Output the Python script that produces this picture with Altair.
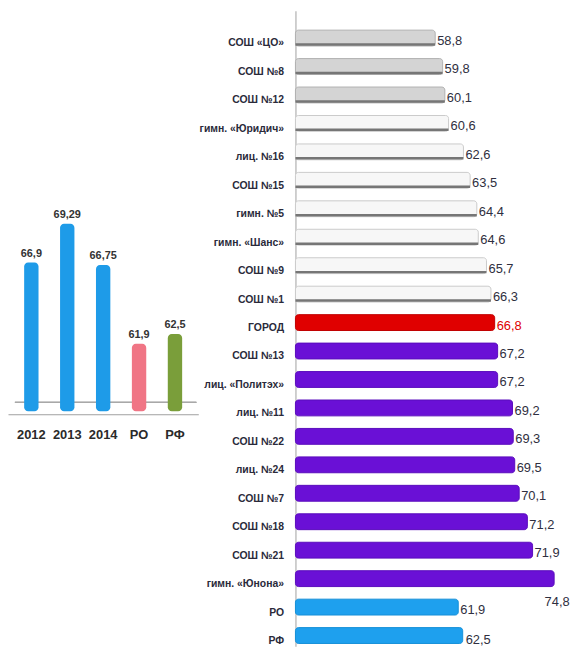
import json
import altair as alt
import pandas as pd

# ---- left chart data ----
years = ["2012", "2013", "2014", "РО", "РФ"]
year_vals = [66.9, 69.29, 66.75, 61.9, 62.5]
year_groups = ["year", "year", "year", "ro", "rf"]

# ---- right chart data ----
schools = ["СОШ «ЦО»", "СОШ №8", "СОШ №12", "гимн. «Юридич»", "лиц. №16", "СОШ №15",
           "гимн. №5", "гимн. «Шанс»", "СОШ №9", "СОШ №1", "ГОРОД", "СОШ №13",
           "лиц. «Политэх»", "лиц. №11", "СОШ №22", "лиц. №24", "СОШ №7", "СОШ №18",
           "СОШ №21", "гимн. «Юнона»", "РО", "РФ"]
scores = [58.8, 59.8, 60.1, 60.6, 62.6, 63.5, 64.4, 64.6, 65.7, 66.3, 66.8, 67.2,
          67.2, 69.2, 69.3, 69.5, 70.1, 71.2, 71.9, 74.8, 61.9, 62.5]
groups = ["grey"] * 3 + ["white"] * 7 + ["city"] + ["purple"] * 9 + ["region"] * 2

FONT = "Liberation Sans, Arial, sans-serif"

left_df = pd.DataFrame({"year": years, "v": year_vals, "lg": year_groups})
right_df = pd.DataFrame({"school": schools, "score": scores, "g": groups,
                         "row": list(range(len(schools)))})

# ---------------- left chart ----------------
lx = alt.X("year:N", sort=years,
           scale=alt.Scale(paddingInner=0.6, paddingOuter=0.45),
           axis=alt.Axis(title=None, labelAngle=0, ticks=False, domainColor="#a0a0a0",
                         domainWidth=1, labelPadding=14, labelFontSize=13,
                         labelFontWeight="bold", labelFont=FONT, labelColor="#2a2a2a"))
ly = alt.Y("v:Q", scale=alt.Scale(domain=[57.57, 82.39], zero=False, nice=False), axis=None)

left_base = alt.Chart(left_df).transform_calculate(
    lbl="replace(toString(datum.v), '.', ',')")
floor = alt.Chart(left_df).mark_rule(color="#a8a8a8", strokeWidth=1).encode(
    x=alt.value(7), x2=alt.value(190), y=alt.value(395))
left_bars = left_base.mark_bar(cornerRadius=4).encode(
    x=lx, y=ly, y2=alt.datum(57.75),
    color=alt.Color("lg:N", legend=None,
                    scale=alt.Scale(domain=["year", "ro", "rf"],
                                    range=["#1e9be8", "#f07585", "#7a9e3a"])))
left_text = left_base.mark_text(dy=-9, fontSize=11, font=FONT, fontWeight="bold",
                                color="#333").encode(x=lx, y=ly, text="lbl:N")
left = (floor + left_bars + left_text).properties(width=192, height=407)

# ---------------- right chart ----------------
label_expr = json.dumps(schools, ensure_ascii=False) + "[datum.value]"
ry = alt.Y("row:Q",
           scale=alt.Scale(domain=[-0.783, 21.2], reverse=True, zero=False, nice=False),
           axis=alt.Axis(title=None, ticks=False, grid=False, values=list(range(len(schools))),
                         labelExpr=label_expr,
                         domainColor="#c0c0c0", domainWidth=1.5,
                         labelPadding=12, labelFontSize=10.5, labelFont=FONT,
                         labelFontWeight="bold", labelColor="#2a2a3a", labelOffset=5,
                         minExtent=93, maxExtent=93))
rx_scale = alt.Scale(domain=[40, 77.07], zero=False, nice=False)
rx = alt.X("score:Q", scale=rx_scale, axis=None)

right_base = alt.Chart(right_df).transform_calculate(
    lbl="replace(toString(datum.score), '.', ',')")

grp_domain = ["grey", "white", "city", "purple", "region"]
right_bars = right_base.mark_bar(orient="horizontal", size=16, cornerRadius=3,
                                 strokeWidth=1).encode(
    y=ry, x=rx, x2=alt.datum(40),
    color=alt.Color("g:N", legend=None,
                    scale=alt.Scale(domain=grp_domain,
                                    range=["#d4d4d4", "#f7f7f7", "#e00000", "#6a10d6", "#1ea0ee"])),
    stroke=alt.Stroke("g:N", legend=None,
                      scale=alt.Scale(domain=grp_domain,
                                      range=["#b0b0b0", "#cacaca", "#c00000", "#5a0cbc", "#1590d8"])))

edge = right_base.transform_filter(
    "datum.g == 'grey' || datum.g == 'white'"
).mark_rule(color="#767676", strokeWidth=2.5, yOffset=6.5).encode(
    y=ry, x=rx, x2=alt.datum(40))

txt_main = right_base.transform_filter(
    "datum.school != 'гимн. «Юнона»' && datum.school != 'РФ'"
).mark_text(align="left", dx=2, dy=3, fontSize=13, font=FONT).encode(
    y=ry, x=rx, text="lbl:N",
    color=alt.condition("datum.g == 'city'", alt.value("#e00000"), alt.value("#2f2f40")))

txt_top = right_base.transform_filter("datum.school == 'гимн. «Юнона»'").mark_text(
    align="center", dx=3, dy=24, fontSize=13, font=FONT, color="#2f2f40").encode(
    y=ry, x=rx, text="lbl:N")

txt_rf = right_base.transform_filter("datum.school == 'РФ'").mark_text(
    align="left", dx=3, dy=5, fontSize=13, font=FONT, color="#2f2f40").encode(
    y=ry, x=rx, text="lbl:N")

right = (right_bars + edge + txt_main + txt_top + txt_rf).properties(width=278, height=641)

chart = alt.hconcat(left, right, spacing=0).resolve_scale(
    color="independent", stroke="independent"
).properties(padding=0).configure_view(stroke=None)

chart.save("out.html", embed_options={"renderer": "svg", "actions": False})
